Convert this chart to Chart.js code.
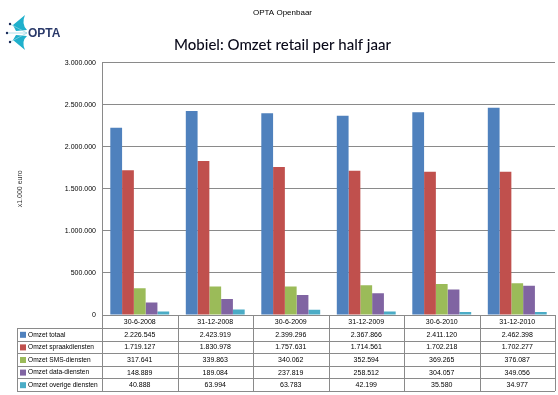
<!DOCTYPE html>
<html>
<head>
<meta charset="utf-8">
<script src="https://cdn.jsdelivr.net/npm/chart.js@4/dist/chart.umd.min.js"></script>
<style>
  html, body { margin: 0; padding: 0; background: #fff; }
  #wrap { width: 558px; height: 395px; position: relative; }
</style>
</head>
<body>
<div id="wrap"><canvas id="chart1"></canvas></div>
<script>
// data (x1.000 euro)
const categories = ['30-6-2008', '31-12-2008', '30-6-2009', '31-12-2009', '30-6-2010', '31-12-2010'];
const seriesNames = ['Omzet totaal', 'Omzet spraakdiensten', 'Omzet SMS-diensten', 'Omzet data-diensten', 'Omzet overige diensten'];
const omzetTotaal = [2226545, 2423919, 2399296, 2367866, 2411120, 2462398];
const omzetSpraak = [1719127, 1830978, 1757631, 1714561, 1702218, 1702277];
const omzetSms = [317641, 339863, 340062, 352594, 369265, 376087];
const omzetData = [148889, 189084, 237819, 258512, 304057, 349056];
const omzetOverig = [40888, 63994, 63783, 42199, 35580, 34977];
const yTicks = [0, 500000, 1000000, 1500000, 2000000, 2500000, 3000000];

const colors = ['#4f81bd', '#c0504d', '#9bbb59', '#8064a2', '#4bacc6'];
const allValues = [omzetTotaal, omzetSpraak, omzetSms, omzetData, omzetOverig];

// 1234567 -> 1.234.567
function fmt(v) {
  return String(v).replace(/\B(?=(\d{3})+(?!\d))/g, '.');
}

const datasets = seriesNames.map((name, i) => ({
  label: name,
  data: allValues[i],
  backgroundColor: colors[i],
  borderWidth: 0,
}));

// data table under the plot, columns follow the x scale
const tablePlugin = {
  id: 'dataTable',
  afterDraw(chart) {
    const { ctx, chartArea } = chart;
    const x = chart.scales.x;
    const n = categories.length;
    const colW = x.width / n;
    const top = Math.round(chartArea.bottom);
    const headH = 13;
    const rowH = 12.6;
    const legendLeft = 17;
    const bottom = top + headH + rowH * seriesNames.length;
    ctx.save();
    ctx.strokeStyle = '#8a8a8a';
    ctx.lineWidth = 1;
    ctx.beginPath();
    for (let i = 0; i <= n; i++) {
      const px = Math.round(x.left + i * colW) + 0.5;
      ctx.moveTo(px, top);
      ctx.lineTo(px, bottom);
    }
    ctx.moveTo(legendLeft + 0.5, top + headH);
    ctx.lineTo(legendLeft + 0.5, bottom);
    for (let r = 0; r <= seriesNames.length; r++) {
      const py = Math.round(top + headH + r * rowH) + 0.5;
      ctx.moveTo(legendLeft, py);
      ctx.lineTo(x.right, py);
    }
    ctx.stroke();

    ctx.textBaseline = 'middle';
    seriesNames.forEach((name, r) => {
      const cy = top + headH + r * rowH + rowH / 2 + 0.5;
      ctx.fillStyle = colors[r];
      ctx.fillRect(legendLeft + 3, cy - 3, 6, 6);
      ctx.fillStyle = '#000';
      ctx.textAlign = 'left';
      ctx.font = '6.6px "Liberation Sans", Arial, sans-serif';
      ctx.fillText(name, legendLeft + 11, cy);
      ctx.textAlign = 'center';
      ctx.font = '7px "Liberation Sans", Arial, sans-serif';
      allValues[r].forEach((v, c) => {
        ctx.fillText(fmt(v), x.left + (c + 0.5) * colW, cy);
      });
    });
    ctx.restore();
  }
};

// OPTA logo (rough)
const logoPlugin = {
  id: 'logo',
  afterDraw(chart) {
    const ctx = chart.ctx;
    ctx.save();
    ctx.fillStyle = '#1fb0cc';
    ctx.beginPath();
    ctx.moveTo(13, 25); ctx.lineTo(25, 15); ctx.quadraticCurveTo(21, 24, 27, 30); ctx.lineTo(16, 31);
    ctx.closePath(); ctx.fill();
    ctx.beginPath();
    ctx.moveTo(13, 40); ctx.lineTo(25, 50); ctx.quadraticCurveTo(21, 41, 27, 36); ctx.lineTo(16, 35);
    ctx.closePath(); ctx.fill();
    ctx.strokeStyle = '#8fd3e3';
    ctx.lineWidth = 0.7;
    ctx.beginPath();
    ctx.moveTo(10, 24); ctx.lineTo(27, 33);
    ctx.moveTo(8, 33); ctx.lineTo(27, 33);
    ctx.moveTo(10, 42); ctx.lineTo(27, 33);
    ctx.stroke();
    ctx.fillStyle = '#1a2a5a';
    [[10, 24], [7, 33], [10, 42]].forEach(([a, b]) => {
      ctx.beginPath(); ctx.arc(a, b, 1.2, 0, Math.PI * 2); ctx.fill();
    });
    ctx.fillStyle = '#2b3a6a';
    ctx.font = 'bold 12px "Liberation Sans", Arial, sans-serif';
    ctx.textBaseline = 'middle';
    ctx.fillText('OPTA', 28, 34);
    ctx.restore();
  }
};

const config = {
  type: 'bar',
  data: { labels: categories, datasets: datasets },
  options: {
    responsive: true,
    maintainAspectRatio: false,
    animation: false,
    layout: { padding: { left: 10, right: 3, top: 0, bottom: 0 } },
    categoryPercentage: 0.78,
    barPercentage: 1.0,
    plugins: {
      legend: { display: false },
      tooltip: { enabled: false },
      title: {
        display: true,
        text: 'OPTA Openbaar',
        color: '#000',
        font: { family: '"Liberation Sans", Arial, sans-serif', size: 8, weight: 'normal', lineHeight: 1.2 },
        padding: { top: 8, bottom: 9 },
      },
      subtitle: {
        display: true,
        text: 'Mobiel: Omzet retail per half jaar',
        color: '#0a0a1a',
        font: { family: 'Lato, "Open Sans", sans-serif', size: 15, weight: '500', lineHeight: 1.2 },
        padding: { top: 10, bottom: 8 },
      },
    },
    scales: {
      x: {
        grid: { display: false, drawTicks: false },
        border: { display: true, color: '#8a8a8a' },
        ticks: {
          color: '#000',
          font: { family: '"Liberation Sans", Arial, sans-serif', size: 7 },
          padding: 3,
          maxRotation: 0,
          autoSkip: false,
        },
        afterFit(scale) { scale.height = 80; },
      },
      y: {
        min: 0,
        max: 3000000,
        afterBuildTicks(scale) { scale.ticks = yTicks.map(v => ({ value: v })); },
        grid: { color: '#8a8a8a', lineWidth: 1, drawTicks: false },
        border: { display: true, color: '#8a8a8a' },
        ticks: {
          color: '#000',
          font: { family: '"Liberation Sans", Arial, sans-serif', size: 7 },
          padding: 6,
          callback: v => fmt(v),
        },
        title: {
          display: true,
          text: 'x1.000 euro',
          color: '#333',
          font: { family: '"Liberation Sans", Arial, sans-serif', size: 7 },
          padding: { top: 6, bottom: 0 },
        },
        afterFit(scale) { scale.width = 92; },
      },
    },
  },
  plugins: [tablePlugin, logoPlugin],
};

var myChart = new Chart(document.getElementById('chart1'), config);
</script>
</body>
</html>
